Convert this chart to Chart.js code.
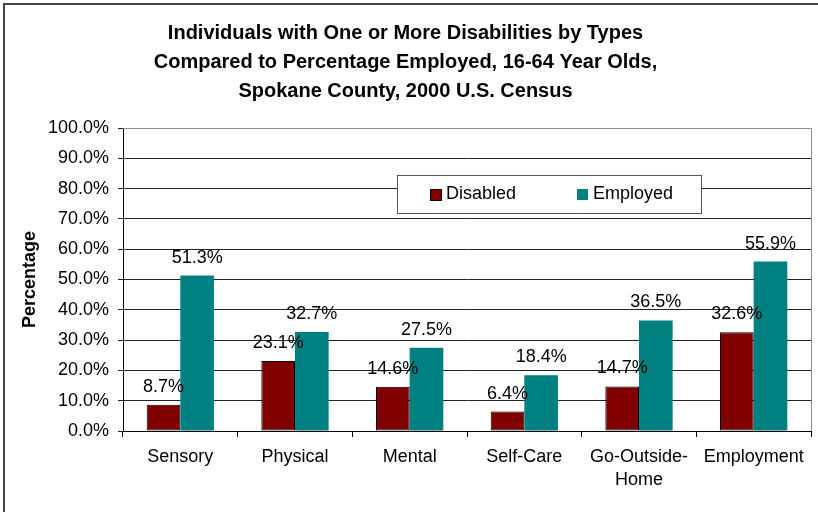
<!DOCTYPE html>
<html>
<head>
<meta charset="utf-8">
<script src="https://cdn.jsdelivr.net/npm/chart.js@4/dist/chart.umd.min.js"></script>
<style>
  html, body { margin: 0; padding: 0; background: #fff; }
  #wrap { width: 818px; height: 512px; position: relative; }
</style>
</head>
<body>
<div id="wrap"><canvas id="grafico"></canvas></div>
<script>
var categorias = ['Sensory', 'Physical', 'Mental', 'Self-Care', ['Go-Outside-', 'Home'], 'Employment'];
var disabled = [8.7, 23.1, 14.6, 6.4, 14.7, 32.6];
var employed = [51.3, 32.7, 27.5, 18.4, 36.5, 55.9];
var tituloLineas = [
  'Individuals with One or More Disabilities by Types',
  'Compared to Percentage Employed, 16-64 Year Olds,',
  'Spokane County, 2000 U.S. Census'
];
var ejeY = 'Percentage';

var fuente = "'Liberation Sans', Arial, sans-serif";

// marco exterior + borde gris del area de trazado
var marcoPlugin = {
  id: 'marco',
  beforeDraw: function(chart) {
    var ctx = chart.ctx;
    ctx.save();
    ctx.fillStyle = '#fff';
    ctx.fillRect(0, 0, chart.width, chart.height);
    ctx.strokeStyle = '#444';
    ctx.lineWidth = 2;
    ctx.strokeRect(4, 4, chart.width + 10, chart.height + 10);
    ctx.restore();
  },
  afterDatasetsDraw: function(chart) {
    var a = chart.chartArea;
    var ctx = chart.ctx;
    ctx.save();
    ctx.strokeStyle = '#8c8c8c';
    ctx.lineWidth = 1;
    ctx.beginPath();
    ctx.moveTo(a.left, a.top + 0.5);
    ctx.lineTo(a.right + 0.5, a.top + 0.5);
    ctx.lineTo(a.right + 0.5, a.bottom);
    ctx.stroke();
    ctx.restore();
  }
};

// etiquetas de valor encima de cada barra
var etiquetasPlugin = {
  id: 'etiquetas',
  afterDatasetsDraw: function(chart) {
    var ctx = chart.ctx;
    ctx.save();
    ctx.font = '18px ' + fuente;
    ctx.fillStyle = '#000';
    ctx.textAlign = 'center';
    ctx.textBaseline = 'alphabetic';
    chart.data.datasets.forEach(function(ds, i) {
      chart.getDatasetMeta(i).data.forEach(function(bar, j) {
        ctx.fillText(ds.data[j].toFixed(1) + '%', bar.x, bar.y - 13);
      });
    });
    ctx.restore();
  }
};

// leyenda dentro del area de trazado
var leyendaPlugin = {
  id: 'leyendaDentro',
  afterDraw: function(chart) {
    var ctx = chart.ctx;
    var x0 = 397, y0 = 175, w = 304, h = 38;
    ctx.save();
    ctx.fillStyle = '#fff';
    ctx.fillRect(x0, y0, w, h);
    ctx.strokeStyle = '#555';
    ctx.lineWidth = 1;
    ctx.strokeRect(x0 + 0.5, y0 + 0.5, w, h);
    ctx.font = '18px ' + fuente;
    ctx.textBaseline = 'alphabetic';
    ctx.textAlign = 'left';
    var posiciones = [430, 577];
    chart.data.datasets.forEach(function(ds, i) {
      var px = posiciones[i];
      ctx.fillStyle = ds.backgroundColor;
      ctx.fillRect(px, 189, 11, 11);
      if (ds.borderWidth) {
        ctx.strokeStyle = '#000';
        ctx.strokeRect(px + 0.5, 189.5, 11, 11);
      }
      ctx.fillStyle = '#000';
      ctx.fillText(ds.label, px + 16, 199);
    });
    ctx.restore();
  }
};

new Chart(document.getElementById('grafico'), {
  type: 'bar',
  data: {
    labels: categorias,
    datasets: [{
      label: 'Disabled',
      data: disabled,
      backgroundColor: '#800000',
      borderColor: '#000',
      borderWidth: 1,
      borderSkipped: false
    }, {
      label: 'Employed',
      data: employed,
      backgroundColor: '#008080',
      borderWidth: 0
    }]
  },
  options: {
    responsive: true,
    maintainAspectRatio: false,
    animation: false,
    layout: { padding: { left: 0, right: 7, top: 0, bottom: 0 } },
    datasets: {
      bar: { categoryPercentage: 0.587, barPercentage: 1 }
    },
    plugins: {
      legend: { display: false },
      tooltip: { enabled: false },
      title: {
        display: true,
        text: tituloLineas,
        color: '#000',
        font: { family: fuente, size: 20, weight: 'bold', lineHeight: 1.45 },
        padding: { top: 19, bottom: 22 }
      }
    },
    scales: {
      x: {
        afterFit: function(s) { s.height = 81; },
        grid: { drawOnChartArea: false, drawTicks: true, tickLength: 6, color: '#000' },
        border: { color: '#000', width: 1 },
        ticks: {
          color: '#000',
          padding: 8,
          maxRotation: 0,
          autoSkip: false,
          font: { family: fuente, size: 18, lineHeight: 1.3 }
        }
      },
      y: {
        min: 0,
        max: 100,
        afterFit: function(s) { s.width = 123; },
        grid: { color: '#222', lineWidth: 1, drawTicks: true, tickLength: 5 },
        border: { color: '#000', width: 1 },
        ticks: {
          stepSize: 10,
          color: '#000',
          padding: 9,
          font: { family: fuente, size: 18 },
          callback: function(v) { return v.toFixed(1) + '%'; }
        },
        title: {
          display: true,
          text: ejeY,
          color: '#000',
          font: { family: fuente, size: 18, weight: 'bold', lineHeight: 1.2 },
          padding: { top: 19, bottom: 0 }
        }
      }
    }
  },
  plugins: [marcoPlugin, etiquetasPlugin, leyendaPlugin]
});
</script>
</body>
</html>
